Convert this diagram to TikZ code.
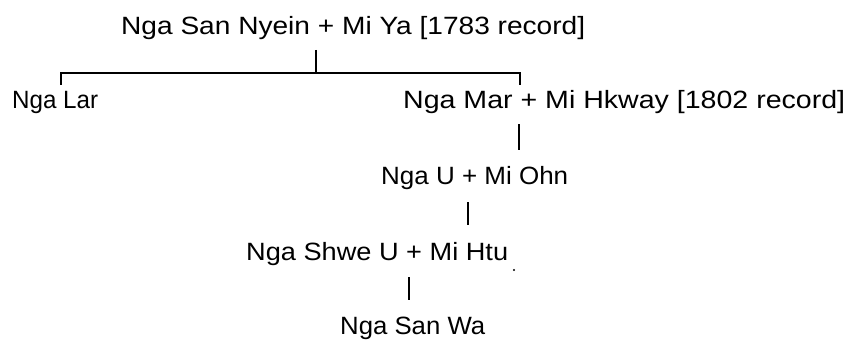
\documentclass[tikz,border=0pt]{standalone}
\usepackage{fontspec}
\setmainfont{Liberation Sans}
\usepackage{graphicx}
\newcommand\fitw[2]{\resizebox{#1pt}{\height}{#2}}
\tikzset{
  person/.style={anchor=base west, inner sep=0pt, font=\fontsize{25}{30}\selectfont},
  link/.style={line width=1.8pt, black}
}
\begin{document}
\begin{tikzpicture}[x=1pt,y=-1pt]
\useasboundingbox[fill=white] (0,0) rectangle (849,345);
% people
\node[person] (top)   at (121,35)  {\fitw{464}{Nga San Nyein + Mi Ya [1783 record]}};
\node[person] (lar)   at (12,109)  {\fitw{86}{Nga Lar}};
\node[person] (mar)   at (403,109) {\fitw{442}{Nga Mar + Mi Hkway [1802 record]}};
\node[person] (u)     at (381,184) {\fitw{187}{Nga U + Mi Ohn}};
\node[person] (shwe)  at (246,260) {\fitw{262}{Nga Shwe U + Mi Htu}};
\node[person] (sanwa) at (340,334) {\fitw{145}{Nga San Wa}};
% connector points
\coordinate (tA) at (316,50);
\coordinate (tB) at (316,73);
\coordinate (lA) at (61,73);
\coordinate (lB) at (61,85);
\coordinate (rA) at (520,73);
\coordinate (rB) at (520,85);
\coordinate (mA) at (519,124);
\coordinate (mB) at (519,150);
\coordinate (uA) at (468,202);
\coordinate (uB) at (468,225);
\coordinate (sA) at (409,277);
\coordinate (sB) at (409,300);
% connectors
\draw[link] (tA) -- (tB);
\draw[link] (lB) -- (lA) -- (rA) -- (rB);
\draw[link] (mA) -- (mB);
\draw[link] (uA) -- (uB);
\draw[link] (sA) -- (sB);
% stray dot
\fill (514,270) circle (1.2pt);
\end{tikzpicture}
\end{document}
